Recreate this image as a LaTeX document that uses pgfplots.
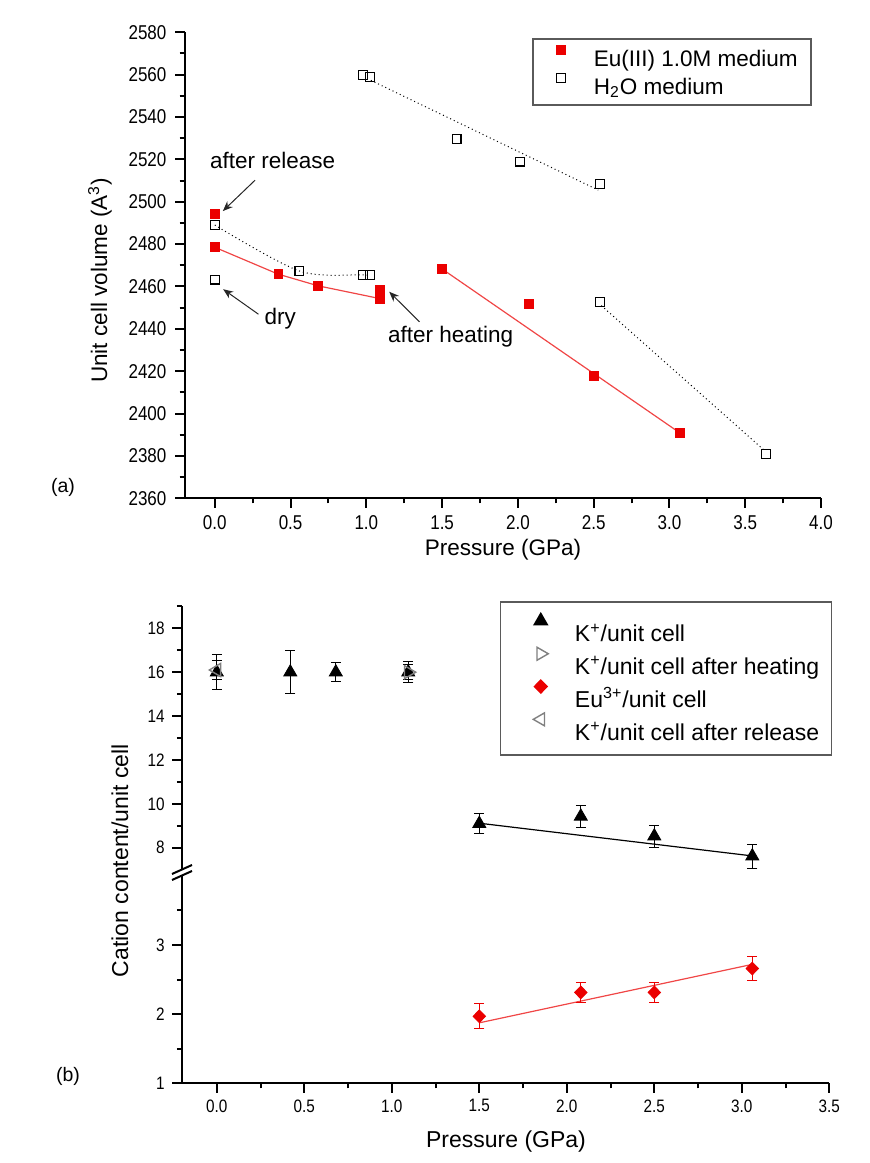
\documentclass[border=0pt]{standalone}
\usepackage{pgfplots}
\pgfplotsset{compat=1.18}
\usetikzlibrary{arrows.meta}
\usepackage{fontspec}
\setmainfont{Liberation Sans}
\newfontfamily\condfont[FakeStretch=0.85]{Liberation Sans}
\definecolor{myred}{RGB}{235,0,0}
\definecolor{linered}{RGB}{240,70,70}
\definecolor{mygray}{RGB}{128,128,128}
\definecolor{legframe}{RGB}{90,90,90}
\pgfplotsset{
  orig/.style={
    scale only axis, clip=false,
    axis line style={line width=1pt,-},
    tick align=outside,
    major tick length=4.75pt, minor tick length=2.5pt,
    tick style={black,line width=1pt},
  },
}
\begin{document}
\begin{tikzpicture}
\useasboundingbox (0pt,0pt) rectangle (435pt,581.5pt);

% ---------------- (a) ----------------
\begin{axis}[orig,
  at={(92.25pt,332.35pt)}, anchor=south west,
  width=318.25pt, height=233pt,
  xmin=-0.2, xmax=4.0, ymin=2360, ymax=2580,
  axis x line*=bottom, axis y line*=left,
  xtick={0,0.5,1,1.5,2,2.5,3,3.5,4},
  xticklabels={0.0,0.5,1.0,1.5,2.0,2.5,3.0,3.5,4.0},
  minor xtick={0.25,0.75,1.25,1.75,2.25,2.75,3.25,3.75},
  ytick={2360,2380,2400,2420,2440,2460,2480,2500,2520,2540,2560,2580},
  yticklabels={2360,2380,2400,2420,2440,2460,2480,2500,2520,2540,2560,2580},
  minor ytick={2370,2390,2410,2430,2450,2470,2490,2510,2530,2550,2570},
  tick label style={font=\condfont\fontsize{10}{12}\selectfont},
  yticklabel style={inner sep=0pt, xshift=-4.1pt},
  xticklabel style={inner sep=0pt, yshift=-3.6pt},
  legend cell align=left,
  legend style={at={(rel axis cs:0.5464,0.987)}, anchor=north west,
    draw=legframe, line width=0.75pt, fill=white,
    font=\fontsize{11.25}{13}\selectfont,
    inner xsep=6.65pt, inner ysep=2.6pt, row sep=0pt,
    nodes={inner sep=0pt, text height=11.1pt, text depth=2.75pt}},
  legend image code/.code={\path (0pt,0pt) (23pt,0pt); \path[#1,only marks] plot coordinates {(6.85pt,4.0pt)};},
]
\addplot[linered, line width=0.6pt, forget plot] coordinates {(0,2478.5)(0.419,2465.8)(0.682,2460.3)(1.088,2454.3)};
\addplot[linered, line width=0.6pt, forget plot] coordinates {(1.497,2468.4)(3.068,2390.9)};
\addplot[black, line width=0.5pt, dash pattern=on 0.5pt off 1.5pt, smooth, forget plot] coordinates {(0,2489)(0.558,2467.3)(0.976,2465.5)(1.026,2465.5)};
\addplot[black, line width=0.5pt, dash pattern=on 0.5pt off 1.5pt, forget plot] coordinates {(1.03,2557.3)(2.53,2505.5)};
\addplot[black, line width=0.5pt, dash pattern=on 0.5pt off 1.5pt, forget plot] coordinates {(2.55,2451)(3.62,2383)};
\addplot[only marks, mark=square*, mark size=2.2pt, color=myred] coordinates {
 (0,2494.2)(0,2478.5)(0.419,2465.8)(0.682,2460.3)(1.088,2458.4)(1.088,2454.3)
 (1.497,2468.4)(2.07,2451.6)(2.503,2417.9)(3.068,2390.9)};
\addlegendentry{Eu(III) 1.0M medium}
\addplot[only marks, mark=square, mark size=2.2pt, color=black, mark options={line width=0.6pt}] coordinates {
 (0,2489)(0,2463.2)(0.558,2467.3)(0.976,2465.5)(1.026,2465.5)(0.976,2559.8)(1.026,2559)
 (1.596,2529.6)(2.015,2519)(2.543,2508.3)(2.543,2452.7)(3.639,2381)};
\addlegendentry{H\textsubscript{2}O medium}
\node[anchor=base west, font=\fontsize{11.25}{13}\selectfont, inner sep=0pt] at (axis cs:-0.033,2515.8) {after release};
\draw[-{Stealth[length=5pt,width=4pt]}, line width=0.5pt, black!85] (axis cs:0.266,2510.2) -- (axis cs:0.053,2495.6);
\node[anchor=base west, font=\fontsize{11.25}{13}\selectfont, inner sep=0pt] at (axis cs:0.326,2442.2) {dry};
\draw[-{Stealth[length=5pt,width=4pt]}, line width=0.5pt, black!85] (axis cs:0.288,2446.9) -- (axis cs:0.055,2458.7);
\node[anchor=base west, font=\fontsize{11.25}{13}\selectfont, inner sep=0pt] at (axis cs:1.141,2433.4) {after heating};
\draw[-{Stealth[length=5pt,width=4pt]}, line width=0.5pt, black!85] (axis cs:1.351,2443.3) -- (axis cs:1.151,2457.5);
\end{axis}
\node[font=\fontsize{11.25}{13}\selectfont] at (251.5pt,306.5pt) {Pressure (GPa)};
\node[rotate=90, font=\fontsize{11.25}{13}\selectfont] at (50pt,441.25pt) {Unit cell volume (A\textsuperscript{3})};
\node[font=\fontsize{9.75}{12}\selectfont] at (31.5pt,338pt) {(a)};

% ---------------- (b) upper ----------------
\begin{axis}[orig,
  at={(90.9pt,146.625pt)}, anchor=south west,
  width=323.75pt, height=131.7pt,
  xmin=-0.2, xmax=3.5, ymin=7, ymax=19,
  axis x line=none, axis y line*=left,
  ytick={8,10,12,14,16,18}, yticklabels={8,10,12,14,16,18},
  minor ytick={9,11,13,15,17,19},
  tick label style={font=\condfont\fontsize{9}{11}\selectfont},
  yticklabel style={inner sep=0pt, xshift=-3.65pt},
  legend cell align=left,
  legend style={at={(rel axis cs:0.4914,1.0203)}, anchor=north west,
    draw=legframe, line width=0.75pt, fill=white,
    font=\fontsize{11.5}{13}\selectfont,
    inner xsep=6pt, inner ysep=5.5pt, row sep=0pt,
    nodes={inner sep=0pt, text height=14.5pt, text depth=1.9pt}},
  legend image code/.code={\path (0pt,0pt) (30.35pt,0pt); \path[#1,only marks] plot coordinates {(13.65pt,4.1pt)};},
  error bars/error mark options={rotate=90, black, mark size=2.5pt, line width=0.5pt},
]
\addplot[black, line width=0.6pt, forget plot] coordinates {(1.5,9.12)(3.06,7.63)};
\addplot[only marks, mark=triangle*, mark size=3.75pt, color=black,
  error bars/.cd, y dir=both, y explicit,
  error bar style={black, line width=0.5pt}] coordinates {
 (0,16.0) +- (0,0.8) (0.42,16.0) +- (0,0.97) (0.68,16.0) +- (0,0.42) (1.094,16.0) +- (0,0.35)
 (1.5,9.1) +- (0,0.47) (2.08,9.43) +- (0,0.5) (2.5,8.53) +- (0,0.5) (3.06,7.62) +- (0,0.55)};
\addlegendentry{K\textsuperscript{+}/unit cell}
\addplot[only marks, mark=triangle, mark size=3.75pt, color=mygray,
  mark options={rotate=-90, fill=white, line width=0.7pt},
  error bars/.cd, y dir=both, y explicit,
  error bar style={black, line width=0.5pt}] coordinates {
 (1.094,16.0) +- (0,0.49)};
\addlegendentry{K\textsuperscript{+}/unit cell after heating}
\addlegendimage{only marks, mark=diamond*, mark size=3.2pt, color=myred, mark options={xscale=1.3}}
\addlegendentry{Eu\textsuperscript{3+}/unit cell}
\addplot[only marks, mark=triangle, mark size=3.75pt, color=mygray,
  mark options={rotate=90, fill=white, line width=0.7pt},
  error bars/.cd, y dir=both, y explicit,
  error bar style={black, line width=0.5pt}] coordinates {
 (0,16.1) +- (0,0.42)};
\addlegendentry{K\textsuperscript{+}/unit cell after release}
\end{axis}

% ---------------- (b) lower ----------------
\begin{axis}[orig,
  at={(90.9pt,39.75pt)}, anchor=south west,
  width=323.75pt, height=103.9pt,
  xmin=-0.2, xmax=3.5, ymin=1, ymax=4,
  axis x line*=bottom, axis y line*=left,
  xtick={0,0.5,1,1.5,2,2.5,3,3.5},
  xticklabels={0.0,0.5,1.0,1.5,2.0,2.5,3.0,3.5},
  minor xtick={0.25,0.75,1.25,1.75,2.25,2.75,3.25},
  ytick={1,2,3}, yticklabels={1,2,3},
  minor ytick={1.5,2.5,3.5},
  tick label style={font=\condfont\fontsize{9}{11}\selectfont},
  yticklabel style={inner sep=0pt, xshift=-3.65pt},
  xticklabel style={inner sep=0pt, yshift=-3.1pt},
  error bars/error mark options={rotate=90, myred, mark size=2.5pt, line width=0.5pt},
]
\addplot[linered, line width=0.6pt] coordinates {(1.5,1.876)(3.06,2.72)};
\addplot[only marks, mark=diamond*, mark size=3.2pt, color=myred, mark options={xscale=1.3},
  error bars/.cd, y dir=both, y explicit,
  error bar style={myred, line width=0.5pt}] coordinates {
 (1.5,1.97) +- (0,0.18) (2.08,2.315) +- (0,0.15) (2.5,2.315) +- (0,0.15) (3.06,2.66) +- (0,0.18)};
\end{axis}
% axis break
\draw[line width=1pt] (86pt,144.5pt) -- (96pt,149pt);
\draw[line width=1pt] (86pt,141.5pt) -- (96pt,146pt);
\node[rotate=90, font=\fontsize{11.5}{13}\selectfont] at (60pt,151.15pt) {Cation content/unit cell};
\node[font=\fontsize{11.5}{13}\selectfont] at (253pt,10.65pt) {Pressure (GPa)};
\node[font=\fontsize{9.75}{12}\selectfont] at (34pt,43.5pt) {(b)};
\end{tikzpicture}
\end{document}
